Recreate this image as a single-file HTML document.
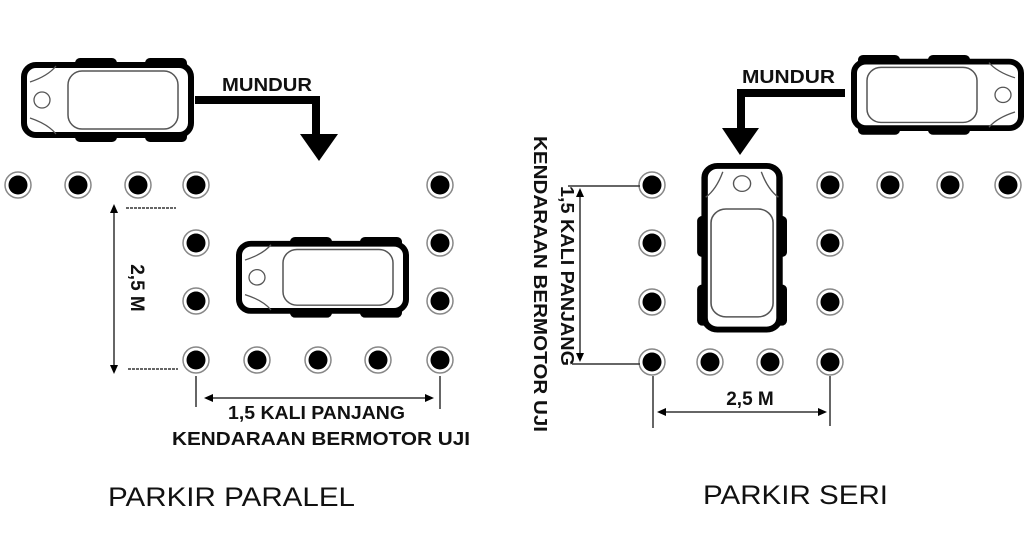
<!DOCTYPE html>
<html><head><meta charset="utf-8"><style>
html,body{margin:0;padding:0;background:#fff;width:1024px;height:550px;overflow:hidden}
text{font-family:"Liberation Sans",sans-serif;fill:#111}
</style></head><body>
<svg width="1024" height="550" viewBox="0 0 1024 550" xmlns="http://www.w3.org/2000/svg">
<defs>
<g id="car">
 <rect x="55" y="0" width="42" height="12" rx="5" fill="#000"/>
 <rect x="125" y="0" width="42" height="12" rx="5" fill="#000"/>
 <rect x="55" y="72" width="42" height="12" rx="5" fill="#000"/>
 <rect x="125" y="72" width="42" height="12" rx="5" fill="#000"/>
 <rect x="4" y="7" width="167" height="70" rx="12" fill="#fff" stroke="#000" stroke-width="6"/>
 <rect x="48" y="13" width="110" height="58" rx="14" fill="#fff" stroke="#555" stroke-width="1.5"/>
 <circle cx="22" cy="42" r="8" fill="none" stroke="#555" stroke-width="1.3"/>
 <path d="M10 24 Q28 18 36 8" fill="none" stroke="#555" stroke-width="1.3"/>
 <path d="M10 60 Q28 66 36 76" fill="none" stroke="#555" stroke-width="1.3"/>
</g>
<g id="pole">
 <circle r="13" fill="#fff" stroke="#888" stroke-width="1.5"/>
 <circle r="9.5" fill="#000"/>
</g>
</defs>

<use href="#car" transform="translate(20,58)"/>
<use href="#car" transform="translate(235,237) scale(1,0.96)"/>
<path d="M195 100 H316 V138" fill="none" stroke="#000" stroke-width="8"/>
<polygon points="300,134 338,134 319,161" fill="#000"/>
<text x="222" y="91" font-size="18" font-weight="bold" fill="#222" textLength="90" lengthAdjust="spacingAndGlyphs">MUNDUR</text>

<g>
<use href="#pole" x="18" y="185"/><use href="#pole" x="78" y="185"/><use href="#pole" x="138" y="185"/><use href="#pole" x="196" y="185"/><use href="#pole" x="440" y="185"/>
<use href="#pole" x="196" y="243"/><use href="#pole" x="196" y="301"/>
<use href="#pole" x="440" y="243"/><use href="#pole" x="440" y="301"/>
<use href="#pole" x="196" y="360"/><use href="#pole" x="257" y="360"/><use href="#pole" x="318" y="360"/><use href="#pole" x="378" y="360"/><use href="#pole" x="440" y="360"/>
</g>
<g stroke="#333" stroke-width="1.5" fill="none">
 <line x1="114" y1="208" x2="114" y2="370"/>
 <line x1="126" y1="208" x2="176" y2="208" stroke-dasharray="3 1"/>
 <line x1="128" y1="369" x2="178" y2="369" stroke-dasharray="3 1"/>
 <line x1="206" y1="398" x2="432" y2="398"/>
 <line x1="196" y1="376" x2="196" y2="407"/>
 <line x1="440" y1="376" x2="440" y2="409"/>
</g>
<polygon points="114,204 110,213 118,213" fill="#000"/>
<polygon points="114,374 110,365 118,365" fill="#000"/>
<polygon points="204,398 213,394 213,402" fill="#000"/>
<polygon points="434,398 425,394 425,402" fill="#000"/>
<text transform="translate(131,288) rotate(90)" font-size="19" font-weight="bold" text-anchor="middle">2,5 M</text>
<text x="228" y="419" font-size="18" font-weight="bold" fill="#222" textLength="177" lengthAdjust="spacingAndGlyphs">1,5 KALI PANJANG</text>
<text x="172" y="445" font-size="18" fill="#222" font-weight="bold" textLength="298" lengthAdjust="spacingAndGlyphs">KENDARAAN BERMOTOR UJI</text>
<text x="108" y="506" font-size="27" textLength="247" lengthAdjust="spacingAndGlyphs">PARKIR PARALEL</text>

<use href="#car" transform="translate(1025,55) scale(-1,0.95)"/>
<use href="#car" transform="translate(787,162) rotate(90) scale(0.98,1.07)"/>
<path d="M845 93 H741 V131" fill="none" stroke="#000" stroke-width="8"/>
<polygon points="722,128 759,128 740,155" fill="#000"/>
<text x="742" y="83" font-size="18" font-weight="bold" fill="#222" textLength="93" lengthAdjust="spacingAndGlyphs">MUNDUR</text>
<g>
<use href="#pole" x="652" y="185"/><use href="#pole" x="830" y="185"/><use href="#pole" x="890" y="185"/><use href="#pole" x="950" y="185"/><use href="#pole" x="1008" y="185"/>
<use href="#pole" x="652" y="243"/><use href="#pole" x="652" y="302"/>
<use href="#pole" x="830" y="243"/><use href="#pole" x="830" y="302"/>
<use href="#pole" x="652" y="362"/><use href="#pole" x="710" y="362"/><use href="#pole" x="770" y="362"/><use href="#pole" x="830" y="362"/>
</g>
<g stroke="#333" stroke-width="1.5" fill="none">
 <line x1="568" y1="186" x2="640" y2="186"/>
 <line x1="572" y1="364" x2="640" y2="364"/>
 <line x1="580" y1="190" x2="580" y2="360"/>
 <line x1="653" y1="376" x2="653" y2="428"/>
 <line x1="830" y1="376" x2="830" y2="426"/>
 <line x1="660" y1="412" x2="824" y2="412"/>
</g>
<polygon points="580,188 576,197 584,197" fill="#000"/>
<polygon points="580,362 576,353 584,353" fill="#000"/>
<polygon points="657,412 666,408 666,416" fill="#000"/>
<polygon points="827,412 818,408 818,416" fill="#000"/>
<text transform="translate(561,186) rotate(90)" font-size="18" font-weight="bold" fill="#222" textLength="180" lengthAdjust="spacingAndGlyphs">1,5 KALI PANJANG</text>
<text transform="translate(534,136) rotate(90)" font-size="18" font-weight="bold" fill="#222" textLength="296" lengthAdjust="spacingAndGlyphs">KENDARAAN BERMOTOR UJI</text>
<text x="750" y="405" font-size="19" font-weight="bold" text-anchor="middle">2,5 M</text>
<text x="703" y="504" font-size="27" textLength="185" lengthAdjust="spacingAndGlyphs">PARKIR SERI</text>
</svg>
</body></html>
